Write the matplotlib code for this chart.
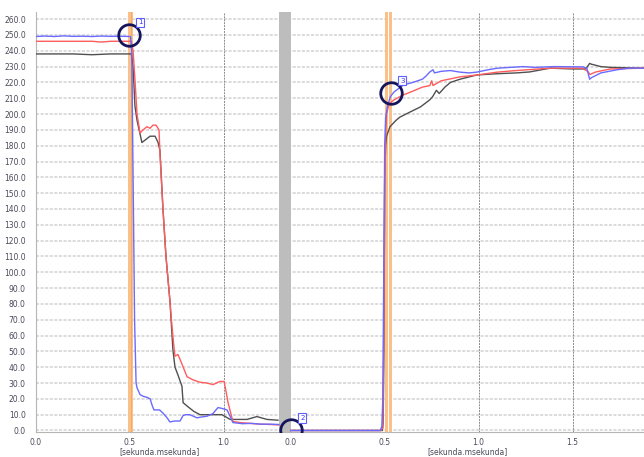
import matplotlib
matplotlib.use("Agg")
import matplotlib.pyplot as plt

# ---------------- data ----------------
# left segment (seconds)
blue_l_t = [0.0, 0.05, 0.1, 0.15, 0.2, 0.25, 0.3, 0.35, 0.4, 0.45, 0.505, 0.512, 0.52, 0.527, 0.535, 0.54,
            0.556, 0.575, 0.593, 0.61, 0.62, 0.63, 0.66, 0.678, 0.70, 0.715, 0.74, 0.769, 0.785, 0.80,
            0.82, 0.84, 0.859, 0.88, 0.912, 0.944, 0.96, 0.971, 0.99, 1.019, 1.035, 1.05, 1.1, 1.15,
            1.2, 1.25, 1.295]
blue_l_v = [249, 249.3, 249, 249.4, 249.1, 249.2, 249, 249.3, 249.1, 249.2, 249, 240, 150, 70, 30, 27,
            22.7, 21.5, 21, 20, 16, 13, 13, 11, 8, 5.4, 6, 6, 9.5, 10,
            10, 9, 8, 8.5, 9, 10.7, 13, 14.5, 14, 13, 9, 5, 4.3, 4.5,
            4, 4, 3.8]

red_l_t = [0.0, 0.1, 0.2, 0.3, 0.35, 0.4, 0.5, 0.51, 0.519, 0.53, 0.54, 0.556, 0.572, 0.593, 0.609,
           0.625, 0.641, 0.657, 0.662, 0.678, 0.694, 0.715, 0.726, 0.737, 0.742, 0.758, 0.779, 0.806,
           0.838, 0.875, 0.912, 0.944, 0.981, 1.003, 1.013, 1.024, 1.05, 1.088, 1.14, 1.194, 1.25, 1.295]
red_l_v = [246, 246, 246, 246, 245.5, 246, 246, 246, 240, 220, 200, 188, 190, 192, 191,
           193, 193, 190, 175, 140, 110, 82, 66, 52, 47, 48, 42, 34,
           32, 30.5, 30, 29, 31, 31, 25, 17.7, 5.7, 5, 4.5, 4, 3.8, 3.5]

black_l_t = [0.0, 0.1, 0.2, 0.3, 0.4, 0.5, 0.51, 0.519, 0.529, 0.54, 0.566, 0.588, 0.609, 0.636, 0.652,
             0.662, 0.678, 0.694, 0.715, 0.731, 0.742, 0.758, 0.779, 0.785, 0.811, 0.843, 0.875, 0.912,
             0.944, 0.992, 1.035, 1.08, 1.125, 1.178, 1.231, 1.29]
black_l_v = [238, 238, 238, 237.5, 238, 238, 238, 230, 205, 196, 182, 184, 186, 186, 182,
             177, 140, 110, 82, 51, 40, 35, 28, 17.6, 15, 12, 10, 10,
             10, 10, 7, 7, 7, 8.8, 7, 6.5]

# right segment (seconds)
blue_r_t = [0.0, 0.2, 0.4, 0.475, 0.48, 0.485, 0.49, 0.495, 0.5, 0.505, 0.515, 0.53, 0.55, 0.6, 0.65,
            0.7, 0.72, 0.74, 0.757, 0.765, 0.8, 0.85, 0.9, 0.95, 0.99, 1.05, 1.1, 1.235, 1.3, 1.4,
            1.555, 1.575, 1.59, 1.6, 1.65, 1.736, 1.8, 1.878]
blue_r_v = [0, 0, 0, 0, 1, 3, 20, 100, 180, 198, 205, 211, 214, 218.4, 220,
            222, 224, 226.6, 228, 226, 227, 227.5, 226.5, 226, 226.5, 228, 229, 230, 229.5, 230,
            229.8, 229, 222, 223, 226, 228, 229, 229]

red_r_t = [0.0, 0.2, 0.4, 0.48, 0.49, 0.495, 0.5, 0.505, 0.51, 0.52, 0.53, 0.55, 0.597, 0.65, 0.7,
           0.74, 0.75, 0.757, 0.8, 0.9, 0.99, 1.1, 1.2, 1.38, 1.55, 1.58, 1.592, 1.62, 1.7, 1.878]
red_r_v = [0, 0, 0, 0, 2, 60, 150, 185, 200, 205, 207, 209, 212, 214.5, 217,
           218, 221, 218, 221, 223.5, 224.7, 226.5, 227.5, 229, 229, 227, 225, 226.5, 228.5, 229]

black_r_t = [0.0, 0.2, 0.4, 0.488, 0.492, 0.496, 0.5, 0.505, 0.51, 0.528, 0.56, 0.58, 0.63, 0.69, 0.74,
             0.755, 0.775, 0.79, 0.82, 0.85, 0.9, 0.99, 1.1, 1.2, 1.27, 1.38, 1.5, 1.57, 1.59, 1.6,
             1.65, 1.7, 1.878]
black_r_v = [0, 0, 0, 0, 5, 50, 160, 180, 186, 192, 196, 198, 201, 204.5, 209,
             211, 215, 213, 217, 220, 222, 224.7, 225.5, 226, 226.6, 229, 228.5, 228.5, 232, 231.5,
             230, 229.5, 229]

# markers: (segment, time, value, label)
marker_seg = ["left", "right", "right"]
marker_t = [0.497, 0.0, 0.533]
marker_v = [250, 0, 213.3]
marker_lab = ["1", "2", "3"]

y_ticks = list(range(0, 261, 10))
left_ticks = [0.0, 0.5, 1.0]
right_ticks = [0.0, 0.5, 1.0, 1.5]
x_label = "[sekunda.msekunda]"

# ---------------- layout ----------------
OFFSET = 1.3574           # start of right segment on the shared axis
GAP_START = 1.295
XMAX = 3.2367

BLUE = "#6a6aff"
RED = "#ff5c5c"
BLACK = "#505050"
ORANGE = "#f9c08a"
TXT = "#4a4a5a"

fig = plt.figure(figsize=(6.44, 4.57), dpi=100)
ax = fig.add_axes([35.5 / 644, 25 / 457, 608.5 / 644, 420 / 457])
ax.set_xlim(0, XMAX)
ax.set_ylim(-0.95, 264.5)

# horizontal grid
for v in y_ticks:
    ax.axhline(v, color="#d2d2d2", lw=1.1, ls=(0, (2, 1)), zorder=0)
# vertical grid
for t in left_ticks[1:]:
    ax.axvline(t, color="#8a8a8a", lw=0.7, ls=(0, (2, 1)), zorder=0.5)
for t in right_ticks[1:]:
    ax.axvline(OFFSET + t, color="#8a8a8a", lw=0.7, ls=(0, (2, 1)), zorder=0.5)

# gray gap band
ax.axvspan(GAP_START, OFFSET, color="#bdbdbd", lw=0, zorder=1)
# orange cursor bands
ax.axvspan(0.494, 0.517, color=ORANGE, lw=0, zorder=1)
ax.axvline(0.5055, color="#f3a860", lw=0.6, zorder=1.1)
ax.axvspan(OFFSET + 0.501, OFFSET + 0.517, color=ORANGE, lw=0, zorder=1)
ax.axvspan(OFFSET + 0.523, OFFSET + 0.539, color=ORANGE, lw=0, zorder=1)

# data lines
ax.plot(black_l_t, black_l_v, color=BLACK, lw=1.0, zorder=3)
ax.plot(red_l_t, red_l_v, color=RED, lw=1.0, zorder=3)
ax.plot(blue_l_t, blue_l_v, color=BLUE, lw=1.0, zorder=4)
ax.plot([OFFSET + t for t in black_r_t], black_r_v, color=BLACK, lw=1.0, zorder=3)
ax.plot([OFFSET + t for t in red_r_t], red_r_v, color=RED, lw=1.0, zorder=3)
ax.plot([OFFSET + t for t in blue_r_t], blue_r_v, color=BLUE, lw=1.0, zorder=4)

# markers
for seg, t, v, lab in zip(marker_seg, marker_t, marker_v, marker_lab):
    x = t if seg == "left" else OFFSET + t
    ax.plot([x], [v], marker="o", ms=15.5, mfc="none", mec="#15155c", mew=2.0, zorder=6)
    ax.annotate(lab, (x, v), xytext=(8.3, 9.0), textcoords="offset points",
                ha="center", va="center", fontsize=5, color="#3535ff", zorder=7,
                annotation_clip=False,
                bbox=dict(boxstyle="square,pad=0.25", fc="white", ec="#6060ff", lw=0.8))

# ticks
ax.set_yticks(y_ticks)
ax.set_yticklabels([f"{v:.1f}" for v in y_ticks])
xt = left_ticks + [OFFSET + t for t in right_ticks]
ax.set_xticks(xt)
ax.set_xticklabels([f"{t:.1f}" for t in left_ticks] + [f"{t:.1f}" for t in right_ticks])
ax.tick_params(axis="y", length=0, pad=7, labelsize=5.5, labelcolor=TXT)
ax.tick_params(axis="x", length=0, pad=4, labelsize=5.5, labelcolor=TXT)

for s in ["top", "right"]:
    ax.spines[s].set_visible(False)
for s in ["left", "bottom"]:
    ax.spines[s].set_color("#b5b5b5")
    ax.spines[s].set_linewidth(0.8)

# axis titles under each segment
fig.text(160 / 644, 1 - 452 / 457, x_label, ha="center", va="center", fontsize=5.5, color=TXT)
fig.text(468 / 644, 1 - 452 / 457, x_label, ha="center", va="center", fontsize=5.5, color=TXT)

fig.savefig("out.png", dpi=100)
